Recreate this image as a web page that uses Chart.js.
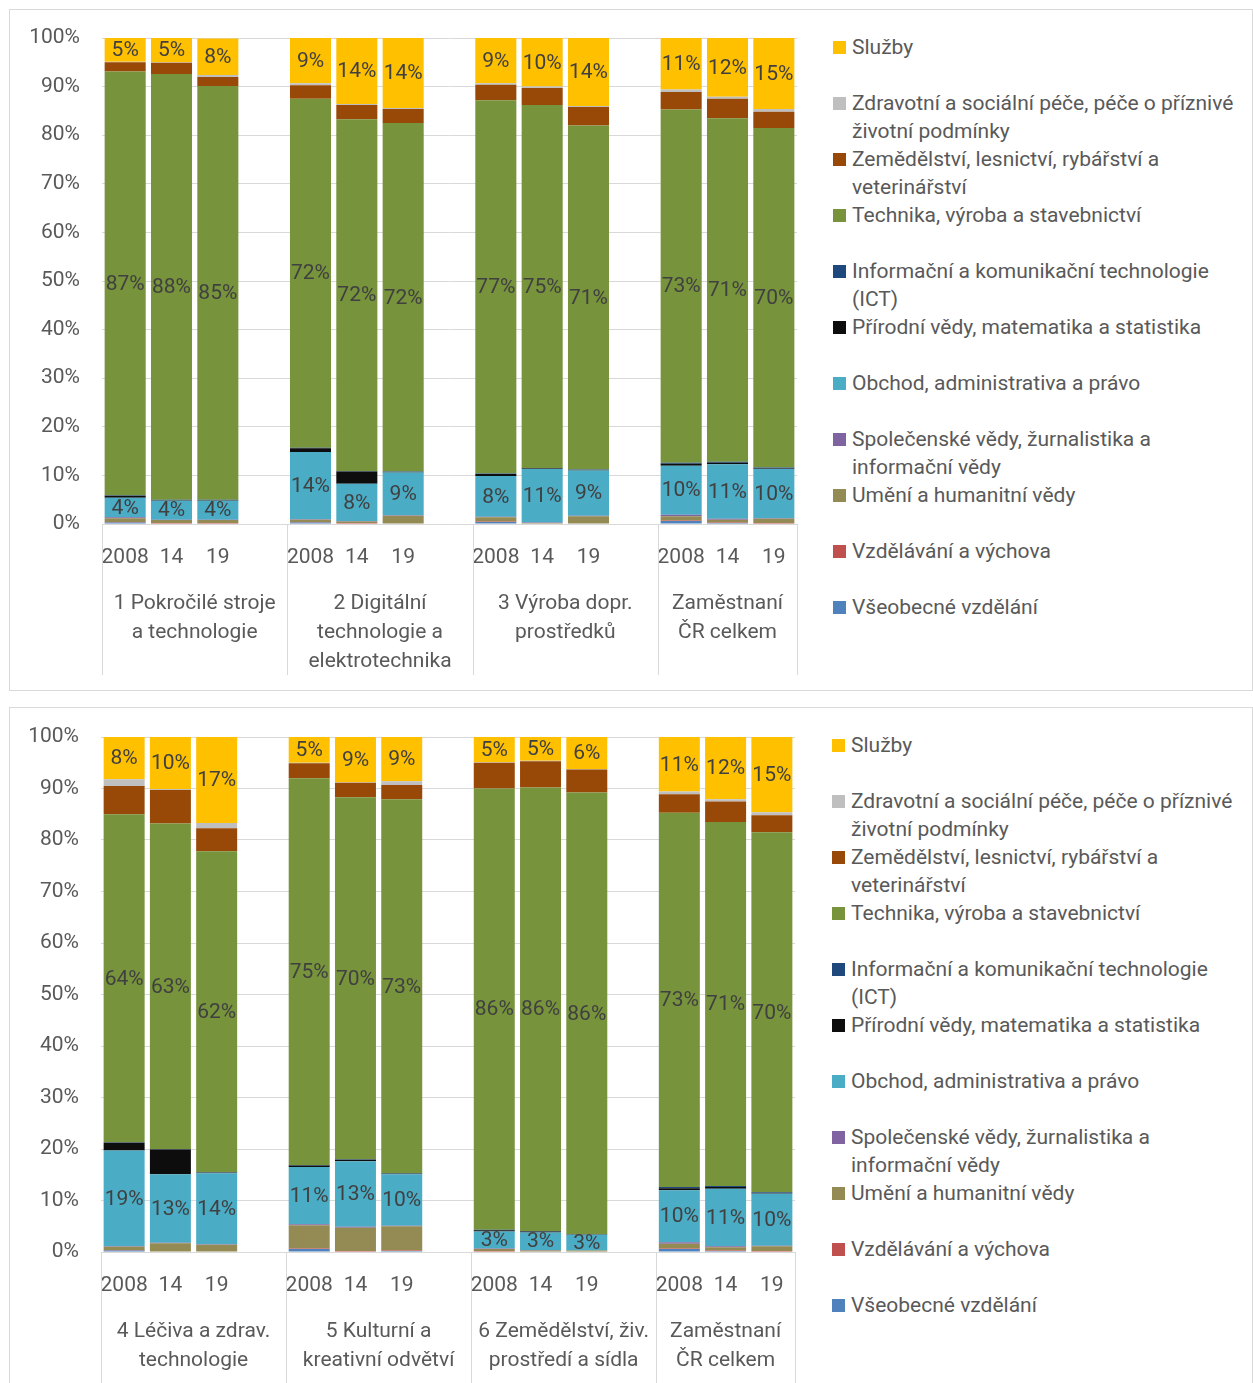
<!DOCTYPE html>
<html lang="cs">
<head>
<meta charset="utf-8">
<title>Struktura zaměstnaných podle oboru vzdělání</title>
<script src="https://cdn.jsdelivr.net/npm/chart.js@4.4.1/dist/chart.umd.min.js"></script>
<style>
  body { margin: 0; background: #fff; font-family: Roboto, sans-serif; }
  .panel { position: absolute; left: 9px; width: 1244px; box-sizing: border-box; border: 1px solid #d9d9d9; }
  canvas { position: absolute; }
  .legend { position: absolute; width: 420px; }
  .legend .item { position: absolute; left: 0; width: 420px; padding-left: 19px; box-sizing: border-box;
                  font-size: 21px; line-height: 28px; color: #595959; }
  .legend .sw { position: absolute; left: 0; top: 8px; width: 13px; height: 13px; }
</style>
</head>
<body>
<div class="panel" style="top:9px;height:682px"></div>
<div class="panel" style="top:707px;height:720px"></div>
<canvas id="chartTop" width="800" height="680" style="left:10px;top:10px"></canvas>
<canvas id="chartBottom" width="800" height="675" style="left:10px;top:708px"></canvas>
<div class="legend" id="legendTop" style="left:833px;top:33px"></div>
<div class="legend" id="legendBottom" style="left:832px;top:731px"></div>

<script>
// Roky v každé skupině a názvy skupin (víceřádkové)
const years = ['2008', '14', '19'];
const groupsTop = [
  ['1 Pokročilé stroje', 'a technologie'],
  ['2 Digitální', 'technologie a', 'elektrotechnika'],
  ['3 Výroba dopr.', 'prostředků'],
  ['Zaměstnaní', 'ČR celkem']
];
const groupsBottom = [
  ['4 Léčiva a zdrav.', 'technologie'],
  ['5 Kulturní a', 'kreativní odvětví'],
  ['6 Zemědělství, živ.', 'prostředí a sídla'],
  ['Zaměstnaní', 'ČR celkem']
];

// Obory vzdělání odspodu nahoru
const seriesNames = [
  'Všeobecné vzdělání',
  'Vzdělávání a výchova',
  'Umění a humanitní vědy',
  'Společenské vědy, žurnalistika a informační vědy',
  'Obchod, administrativa a právo',
  'Přírodní vědy, matematika a statistika',
  'Informační a komunikační technologie (ICT)',
  'Technika, výroba a stavebnictví',
  'Zemědělství, lesnictví, rybářství a veterinářství',
  'Zdravotní a sociální péče, péče o příznivé životní podmínky',
  'Služby'
];
const seriesColors = ['#4F81BD', '#C0504D', '#948A54', '#8064A2', '#4BACC6', '#0D0D0D',
                      '#1F497D', '#77933C', '#984807', '#BFBFBF', '#FFC000'];
const labelledSeries = ['Obchod, administrativa a právo', 'Technika, výroba a stavebnictví', 'Služby'];

// Podíly v % (2008, 14, 19 pro každou ze 4 skupin) – horní graf
const vseobTop  = [0.3, 0.1, 0.1,  0.3, 0.1, 0.1,  0.4, 0.1, 0.1,  0.6, 0.2, 0.1];
const vzdelTop  = [0.1, 0.1, 0.1,  0.1, 0.1, 0.0,  0.1, 0.0, 0.0,  0.1, 0.1, 0.1];
const umeniTop  = [0.8, 0.6, 0.6,  0.5, 0.3, 1.6,  0.9, 0.1, 1.5,  0.9, 0.6, 0.9];
const spolecTop = [0.2, 0.1, 0.1,  0.1, 0.1, 0.1,  0.1, 0.1, 0.1,  0.3, 0.2, 0.1];
const obchodTop = [4.0, 3.9, 3.9,  13.8, 7.7, 8.8,  8.4, 11.0, 9.3,  10.1, 11.2, 10.1];
const prirodTop = [0.4, 0.1, 0.1,  0.8, 2.5, 0.1,  0.4, 0.1, 0.1,  0.4, 0.3, 0.1];
const ictTop    = [0.1, 0.1, 0.1,  0.1, 0.1, 0.1,  0.1, 0.1, 0.1,  0.2, 0.2, 0.2];
const techTop   = [87.2, 87.6, 85.1,  71.8, 72.4, 71.7,  76.8, 74.7, 70.8,  72.7, 70.7, 69.9];
const zemedTop  = [1.9, 2.3, 1.9,  2.8, 2.9, 2.9,  3.2, 3.5, 3.8,  3.6, 4.0, 3.3];
const zdravTop  = [0.1, 0.1, 0.4,  0.4, 0.2, 0.2,  0.3, 0.3, 0.2,  0.5, 0.4, 0.6];
const sluzbyTop = [4.9, 5.0, 7.5,  9.3, 13.6, 14.4,  9.3, 10.0, 14.0,  10.6, 12.1, 14.6];

// dolní graf
const vseobBot  = [0.3, 0.1, 0.1,  0.6, 0.1, 0.2,  0.1, 0.1, 0.1,  0.6, 0.2, 0.1];
const vzdelBot  = [0.1, 0.0, 0.0,  0.1, 0.1, 0.1,  0.1, 0.0, 0.0,  0.1, 0.1, 0.1];
const umeniBot  = [0.6, 1.6, 1.3,  4.5, 4.5, 4.7,  0.4, 0.2, 0.2,  0.9, 0.6, 0.9];
const spolecBot = [0.1, 0.1, 0.1,  0.2, 0.2, 0.1,  0.1, 0.1, 0.0,  0.3, 0.2, 0.1];
const obchodBot = [18.6, 13.3, 13.8,  11.1, 12.7, 10.0,  3.3, 3.4, 3.0,  10.1, 11.2, 10.1];
const prirodBot = [1.5, 4.8, 0.1,  0.3, 0.3, 0.1,  0.2, 0.2, 0.0,  0.4, 0.3, 0.1];
const ictBot    = [0.1, 0.1, 0.1,  0.1, 0.1, 0.1,  0.1, 0.1, 0.1,  0.2, 0.2, 0.2];
const techBot   = [63.7, 63.2, 62.3,  75.1, 70.3, 72.6,  85.7, 86.1, 85.8,  72.7, 70.7, 69.9];
const zemedBot  = [5.5, 6.5, 4.5,  2.9, 2.8, 2.8,  5.0, 5.1, 4.5,  3.6, 4.0, 3.3];
const zdravBot  = [1.3, 0.2, 1.0,  0.1, 0.1, 0.7,  0.1, 0.1, 0.1,  0.5, 0.4, 0.6];
const sluzbyBot = [8.2, 10.1, 16.7,  5.0, 8.8, 8.6,  4.9, 4.6, 6.2,  10.6, 12.1, 14.6];

const topSeries = [vseobTop, vzdelTop, umeniTop, spolecTop, obchodTop, prirodTop,
                   ictTop, techTop, zemedTop, zdravTop, sluzbyTop];
const bottomSeries = [vseobBot, vzdelBot, umeniBot, spolecBot, obchodBot, prirodBot,
                      ictBot, techBot, zemedBot, zdravBot, sluzbyBot];

// mezi skupinami je jedna prázdná kategorie
function withGaps(values) {
  const out = [];
  for (let g = 0; g < 4; g++) {
    out.push(...values.slice(g * 3, g * 3 + 3));
    if (g < 3) out.push(null);
  }
  return out;
}
const categories = withGaps([...years, ...years, ...years, ...years]).map(v => v === null ? '' : v);
const groupStarts = [0, 4, 8, 12];

Chart.defaults.font.family = 'Roboto, sans-serif';
Chart.defaults.font.size = 21;
Chart.defaults.color = '#595959';

// popisky hodnot uprostřed segmentů
const valueLabels = {
  id: 'valueLabels',
  afterDatasetsDraw(chart) {
    const ctx = chart.ctx;
    ctx.save();
    ctx.font = '21px Roboto, sans-serif';
    ctx.fillStyle = '#404040';
    ctx.textAlign = 'center';
    ctx.textBaseline = 'middle';
    chart.data.datasets.forEach((ds, i) => {
      if (!labelledSeries.includes(ds.label)) return;
      chart.getDatasetMeta(i).data.forEach((bar, j) => {
        const v = ds.data[j];
        if (v === null || v === undefined) return;
        const p = bar.getProps(['x', 'y', 'base'], true);
        ctx.fillText(Math.round(v) + '%', p.x, (p.y + p.base) / 2 + 1);
      });
    });
    ctx.restore();
  }
};

// druhá úroveň osy x: oddělovače a názvy skupin
const groupAxis = {
  id: 'groupAxis',
  afterDraw(chart, args, opts) {
    const { ctx, chartArea } = chart;
    const x = chart.scales.x;
    const slot = x.getPixelForValue(1) - x.getPixelForValue(0);
    const edges = groupStarts.map(i => x.getPixelForValue(i) - slot / 2).concat(chartArea.right);
    ctx.save();
    ctx.strokeStyle = '#d9d9d9';
    ctx.lineWidth = 1;
    edges.forEach(e => {
      const px = Math.round(e) + 0.5;
      ctx.beginPath();
      ctx.moveTo(px, chartArea.bottom);
      ctx.lineTo(px, chartArea.bottom + opts.lineLength);
      ctx.stroke();
    });
    ctx.fillStyle = '#595959';
    ctx.font = '21px Roboto, sans-serif';
    ctx.textAlign = 'center';
    ctx.textBaseline = 'middle';
    opts.groups.forEach((lines, g) => {
      const cx = (edges[g] + edges[g + 1]) / 2;
      lines.forEach((t, k) => ctx.fillText(t, cx, chartArea.bottom + 80 + k * 29));
    });
    ctx.restore();
  }
};

function makeChart(id, series, groups, geo) {
  return new Chart(document.getElementById(id), {
    type: 'bar',
    data: {
      labels: categories,
      datasets: series.map((vals, i) => ({
        label: seriesNames[i],
        data: withGaps(vals),
        backgroundColor: seriesColors[i],
        borderWidth: 0,
        barPercentage: 0.886,
        categoryPercentage: 1.0
      }))
    },
    options: {
      responsive: false,
      animation: false,
      devicePixelRatio: 1,
      layout: { padding: { top: geo.top, right: geo.right, left: 0, bottom: 0 } },
      plugins: {
        legend: { display: false },
        tooltip: { enabled: false },
        groupAxis: { groups: groups, lineLength: geo.lineLength }
      },
      scales: {
        x: {
          stacked: true,
          grid: { display: false },
          border: { display: false },
          ticks: { autoSkip: false, maxRotation: 0, padding: 13, color: '#595959' },
          afterFit(scale) { scale.height = geo.xHeight; }
        },
        y: {
          stacked: true,
          min: 0,
          max: 100,
          grid: { color: '#d9d9d9', drawTicks: false },
          border: { display: false },
          ticks: { stepSize: 10, padding: 22, color: '#595959', callback: v => v + '%' },
          afterFit(scale) {
            scale.width = geo.yWidth;
            // okraj nad grafem řídí jen layout.padding
            scale.paddingTop = 0;
            scale.paddingBottom = 0;
          }
        }
      }
    },
    plugins: [valueLabels, groupAxis]
  });
}

makeChart('chartTop', topSeries, groupsTop,
  { top: 28, right: 13, yWidth: 92, xHeight: 166, lineLength: 151 });
makeChart('chartBottom', bottomSeries, groupsBottom,
  { top: 29, right: 15, yWidth: 91, xHeight: 131, lineLength: 131 });

// legenda vpravo, Služby nahoře
function buildLegend(id) {
  const box = document.getElementById(id);
  for (let k = seriesNames.length - 1, row = 0; k >= 0; k--, row++) {
    const item = document.createElement('div');
    item.className = 'item';
    item.style.top = (row * 56) + 'px';
    const sw = document.createElement('span');
    sw.className = 'sw';
    sw.style.background = seriesColors[k];
    item.appendChild(sw);
    item.appendChild(document.createTextNode(seriesNames[k]));
    box.appendChild(item);
  }
}
buildLegend('legendTop');
buildLegend('legendBottom');
</script>
</body>
</html>
